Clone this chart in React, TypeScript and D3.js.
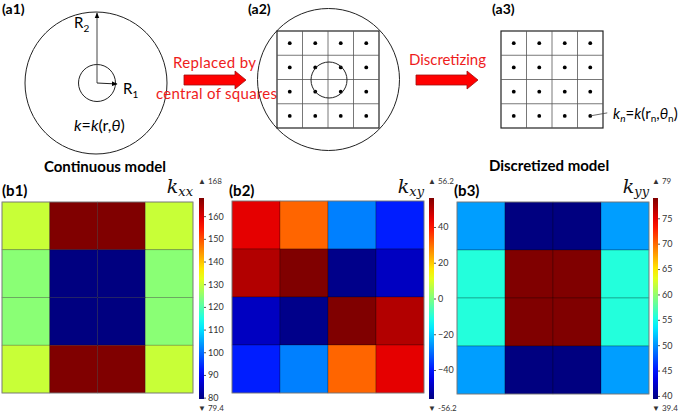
import React, { useRef, useEffect } from 'react';
import * as d3 from 'd3';

// grid cells (4 x 4) shared by every panel
const cols = ['c1', 'c2', 'c3', 'c4'];
const rows = ['r1', 'r2', 'r3', 'r4'];

// k_xx values, row by row (top to bottom)
const kxxRow1 = [130, 168, 168, 130];
const kxxRow2 = [124.6, 79.4, 79.4, 124.6];
const kxxRow3 = [124.6, 79.4, 79.4, 124.6];
const kxxRow4 = [130, 168, 168, 130];
const kxxTicks = [80, 90, 100, 110, 120, 130, 140, 150, 160];

// k_xy values
const kxyRow1 = [45, 31, -28, -39];
const kxyRow2 = [50.6, 56.2, -55, -49];
const kxyRow3 = [-49, -55, 56.2, 50.6];
const kxyRow4 = [-39, -28, 31, 45];
const kxyTicks = [-40, -20, 0, 20, 40];

// k_yy values
const kyyRow1 = [50.5, 39.4, 39.4, 50.5];
const kyyRow2 = [55.6, 79, 79, 55.6];
const kyyRow3 = [55.6, 79, 79, 55.6];
const kyyRow4 = [50.5, 39.4, 39.4, 50.5];
const kyyTicks = [40, 45, 50, 55, 60, 65, 70, 75];

const FONT = 'Lato, "Open Sans", sans-serif';
const SERIF = '"DejaVu Serif", "Liberation Serif", serif';
const RED = '#ee1c1c';

function jet(t: number) {
    const c = (v: number) => Math.round(255 * Math.max(0, Math.min(1, v)));
    const r = c(1.5 - Math.abs(4 * t - 3));
    const g = c(1.5 - Math.abs(4 * t - 2));
    const b = c(1.5 - Math.abs(4 * t - 1));
    return `rgb(${r},${g},${b})`;
}

const panels = [
    { id: 'b1', label: '(b1)', sub: 'xx', data: [kxxRow1, kxxRow2, kxxRow3, kxxRow4], min: 79.4, max: 168, ticks: kxxTicks, hi: '168', lo: '79.4', x: [2, 193], y: [202, 393], cb: 199 },
    { id: 'b2', label: '(b2)', sub: 'xy', data: [kxyRow1, kxyRow2, kxyRow3, kxyRow4], min: -56.2, max: 56.2, ticks: kxyTicks, hi: '56.2', lo: '-56.2', x: [232, 424], y: [201, 393], cb: 429 },
    { id: 'b3', label: '(b3)', sub: 'yy', data: [kyyRow1, kyyRow2, kyyRow3, kyyRow4], min: 39.4, max: 79, ticks: kyyTicks, hi: '79', lo: '39.4', x: [457, 649], y: [202, 394], cb: 653 },
];

function App() {
    const ref = useRef<SVGSVGElement>(null);

    useEffect(() => {
        const svg = d3.select(ref.current);
        svg.selectAll('*').remove();
        const defs = svg.append('defs');

        defs.append('marker')
            .attr('id', 'tip')
            .attr('viewBox', '0 0 10 10')
            .attr('refX', 9).attr('refY', 5)
            .attr('markerWidth', 6).attr('markerHeight', 6)
            .attr('orient', 'auto')
            .append('path').attr('d', 'M0,1 L10,5 L0,9 Z').attr('fill', '#000');

        const text = (x: number, y: number, s: string, size: number, weight = 'normal', fill = '#000') =>
            svg.append('text').attr('x', x).attr('y', y).attr('font-family', FONT)
                .attr('font-size', size).attr('font-weight', weight).attr('fill', fill).text(s);

        // ---------- (a1) continuous model ----------
        text(2, 14, '(a1)', 14, 'bold');
        svg.append('circle').attr('cx', 96).attr('cy', 83).attr('r', 71).attr('fill', 'none').attr('stroke', '#222');
        svg.append('circle').attr('cx', 97).attr('cy', 83).attr('r', 18.5).attr('fill', 'none').attr('stroke', '#222');
        svg.append('line').attr('x1', 97).attr('y1', 83).attr('x2', 97).attr('y2', 13)
            .attr('stroke', '#444').attr('marker-end', 'url(#tip)');
        svg.append('line').attr('x1', 97).attr('y1', 83).attr('x2', 117).attr('y2', 84)
            .attr('stroke', '#222').attr('marker-end', 'url(#tip)');

        const r2 = text(74, 28, 'R', 15);
        r2.append('tspan').attr('dy', 4).attr('font-size', 10).text('2');
        const r1 = text(123, 94, 'R', 15);
        r1.append('tspan').attr('dy', 4).attr('font-size', 10).text('1');

        const kr = text(74, 131, '', 16);
        kr.append('tspan').attr('font-style', 'italic').text('k');
        kr.append('tspan').text('=');
        kr.append('tspan').attr('font-style', 'italic').text('k');
        kr.append('tspan').text('(r,');
        kr.append('tspan').attr('font-style', 'italic').text('θ');
        kr.append('tspan').text(')');

        // red arrows
        const arrow = (x0: number, x1: number, tip: number, yc: number) => {
            const d = `M${x0},${yc - 5} L${x1},${yc - 5} L${x1},${yc - 9} L${tip},${yc} L${x1},${yc + 9} L${x1},${yc + 5} L${x0},${yc + 5} Z`;
            svg.append('path').attr('d', d).attr('fill', '#f00').attr('stroke', '#a01010').attr('stroke-width', 0.8);
        };
        arrow(184, 235, 246, 80);
        arrow(416, 467, 478, 80);
        text(173, 68, 'Replaced by', 15, 'normal', RED).attr('textLength', 83);
        text(156, 99, 'central of squares', 15, 'normal', RED).attr('textLength', 121);
        text(409, 65, 'Discretizing', 15, 'normal', RED).attr('textLength', 77);

        // ---------- (a2) / (a3) grids ----------
        const grid = (x0: number, x1: number, y0: number, y1: number) => {
            const gx = d3.scaleBand().domain(cols).range([x0, x1]);
            const gy = d3.scaleBand().domain(rows).range([y0, y1]);
            const g = svg.append('g');
            g.append('rect').attr('x', x0).attr('y', y0).attr('width', x1 - x0).attr('height', y1 - y0)
                .attr('fill', 'none').attr('stroke', '#222').attr('stroke-width', 1.2);
            cols.slice(1).forEach((c) => g.append('line').attr('x1', gx(c)!).attr('x2', gx(c)!)
                .attr('y1', y0).attr('y2', y1).attr('stroke', '#555').attr('stroke-width', 0.8));
            rows.slice(1).forEach((r) => g.append('line').attr('y1', gy(r)!).attr('y2', gy(r)!)
                .attr('x1', x0).attr('x2', x1).attr('stroke', '#555').attr('stroke-width', 0.8));
            rows.forEach((r) => cols.forEach((c) => g.append('circle')
                .attr('cx', gx(c)! + gx.bandwidth() / 2).attr('cy', gy(r)! + gy.bandwidth() / 2)
                .attr('r', 1.9).attr('fill', '#000')));
            return { gx, gy };
        };

        text(248, 14, '(a2)', 14, 'bold');
        svg.append('circle').attr('cx', 328.5).attr('cy', 79.5).attr('r', 71).attr('fill', 'none').attr('stroke', '#222');
        grid(277, 379, 31, 128);
        svg.append('circle').attr('cx', 329).attr('cy', 80).attr('r', 18).attr('fill', 'none').attr('stroke', '#222');

        text(492, 14, '(a3)', 14, 'bold');
        const { gx, gy } = grid(501, 603, 31, 128);
        const lx = gx('c4')! + gx.bandwidth() / 2;
        const ly = gy('r4')! + gy.bandwidth() / 2;
        svg.append('line').attr('x1', lx).attr('y1', ly).attr('x2', lx + 17).attr('y2', ly - 3)
            .attr('stroke', '#444').attr('stroke-width', 0.8);
        const kn = text(613, 119, '', 15);
        kn.append('tspan').attr('font-style', 'italic').text('k');
        kn.append('tspan').attr('font-size', 10).attr('dy', 3).attr('font-style', 'italic').text('n');
        kn.append('tspan').attr('dy', -3).text('=');
        kn.append('tspan').attr('font-style', 'italic').text('k');
        kn.append('tspan').text('(r');
        kn.append('tspan').attr('font-size', 10).attr('dy', 3).text('n');
        kn.append('tspan').attr('dy', -3).text(',');
        kn.append('tspan').attr('font-style', 'italic').text('θ');
        kn.append('tspan').attr('font-size', 10).attr('dy', 3).text('n');
        kn.append('tspan').attr('dy', -3).text(')');

        text(105, 172, 'Continuous model', 15, 'bold').attr('text-anchor', 'middle');
        text(549, 171, 'Discretized model', 15, 'bold').attr('text-anchor', 'middle');

        // ---------- (b) heatmaps ----------
        panels.forEach((p) => {
            const x = d3.scaleBand().domain(cols).range(p.x as [number, number]);
            const y = d3.scaleBand().domain(rows).range(p.y as [number, number]);
            const color = d3.scaleSequential((t: number) => jet(t)).domain([p.min, p.max]);
            const g = svg.append('g');

            rows.forEach((r, i) => {
                g.selectAll(null)
                    .data(p.data[i])
                    .enter()
                    .append('rect')
                    .attr('x', (_d, j) => x(cols[j])!)
                    .attr('y', y(r)!)
                    .attr('width', x.bandwidth())
                    .attr('height', y.bandwidth())
                    .attr('fill', (d) => color(d))
                    .attr('stroke', 'rgba(0,0,0,0.35)')
                    .attr('stroke-width', 0.7);
            });
            g.append('rect').attr('x', p.x[0]).attr('y', p.y[0])
                .attr('width', p.x[1] - p.x[0]).attr('height', p.y[1] - p.y[0])
                .attr('fill', 'none').attr('stroke', '#888').attr('stroke-width', 0.8);

            // colour bar
            const cy = d3.scaleLinear().domain([p.min, p.max]).range([399, 198]);
            const grad = defs.append('linearGradient').attr('id', 'g' + p.id)
                .attr('x1', 0).attr('x2', 0).attr('y1', 1).attr('y2', 0);
            d3.range(0, 1.0001, 0.05).forEach((t) =>
                grad.append('stop').attr('offset', t).attr('stop-color', jet(t)));
            g.append('rect').attr('x', p.cb).attr('y', 198).attr('width', 5).attr('height', 201)
                .attr('fill', `url(#g${p.id})`);

            const axis = g.append('g')
                .attr('transform', `translate(${p.cb + 5},0)`)
                .call(d3.axisRight(cy).tickValues(p.ticks).tickSize(2).tickPadding(2).tickFormat(d3.format('d')));
            axis.select('.domain').remove();
            axis.selectAll('line').attr('stroke', '#555');
            axis.selectAll('text').attr('font-family', FONT).attr('font-size', 9).attr('fill', '#333');

            text(p.cb - 1, 184, '▲ ' + p.hi, 8, 'normal', '#333');
            text(p.cb - 1, 411, '▼ ' + p.lo, 8, 'normal', '#333');

            text(p.x[0] + (p.id === 'b1' ? 0 : -3), 196, p.label, 15, 'bold');

            const kl = svg.append('text').attr('x', p.x[1]).attr('y', 193).attr('text-anchor', 'end')
                .attr('font-family', SERIF).attr('font-style', 'italic').attr('fill', '#111');
            kl.append('tspan').attr('font-size', 19).text('k');
            kl.append('tspan').attr('font-size', 13).attr('dy', 3).text(p.sub);
        });
    }, []);

    return (
        <svg
            ref={ref}
            width={685}
            height={413}
            style={{ position: 'absolute', left: 0, top: 0, background: '#fff' }}
        />
    );
}

export default App;
